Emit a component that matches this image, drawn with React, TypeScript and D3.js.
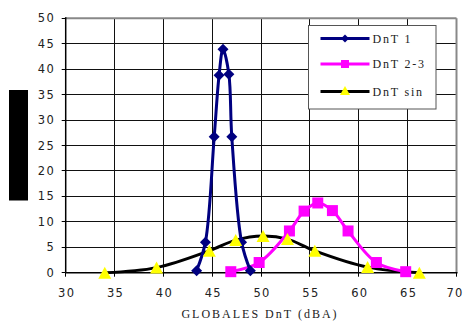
import React from "react";
import * as d3 from "d3";

const xTicks = [30, 35, 40, 45, 50, 55, 60, 65, 70];
const yTicks = [0, 5, 10, 15, 20, 25, 30, 35, 40, 45, 50];

const dnt1X = [43.4, 44.3, 45.2, 45.7, 46.1, 46.7, 47.0, 48.0, 48.9];
const dnt1Y = [0.4, 6.0, 26.7, 38.8, 43.9, 39.0, 26.7, 6.0, 0.4];

const dnt23X = [46.9, 49.8, 52.9, 54.4, 55.8, 57.3, 58.9, 61.8, 64.8];
const dnt23Y = [0.2, 2.0, 8.2, 12.1, 13.7, 12.2, 8.2, 2.0, 0.2];

const sinX = [34.0, 39.3, 44.7, 47.4, 50.2, 52.7, 55.5, 60.9, 66.2];
const sinY = [0.0, 1.0, 4.3, 6.4, 7.2, 6.6, 4.3, 1.1, 0.0];

const seriesNames = ["DnT 1", "DnT 2-3", "DnT sin"];
const xTitle = "GLOBALES DnT (dBA)";

const W = 464;
const H = 322;
const L = 65.7, R = 456.5, T = 18.2, B = 272.7;

const x = d3.scaleLinear().domain([30, 70]).range([L, R]);
const y = d3.scaleLinear().domain([0, 50]).range([B, T]);
const snap = (v: number) => Math.round(v - 0.5) + 0.5;

type P = [number, number];
const zip = (a: number[], b: number[]): P[] => a.map((v, i) => [v, b[i]]);

const line = d3
  .line<P>()
  .x((d) => x(d[0]))
  .y((d) => y(d[1]))
  .curve(d3.curveCatmullRom.alpha(0.5));

const diamond = (cx: number, cy: number, r: number) =>
  `M${cx},${cy - r}L${cx + r},${cy}L${cx},${cy + r}L${cx - r},${cy}Z`;
const tri = (cx: number, cy: number, w: number, h: number) =>
  `M${cx},${cy - h / 2}L${cx + w / 2},${cy + h / 2}L${cx - w / 2},${cy + h / 2}Z`;

export default function App() {
  const s1 = zip(dnt1X, dnt1Y);
  const s2 = zip(dnt23X, dnt23Y);
  const s3 = zip(sinX, sinY);
  const legY = [38.5, 64, 91.5];
  const tickFont = "DejaVu Sans";
  const serif = "Liberation Serif";
  return (
    <svg
      width={W}
      height={H}
      style={{ position: "absolute", left: 0, top: 0, background: "#fff" }}
    >
      <rect x={9} y={90} width={19} height={110.5} fill="#000" />
      {/* gridlines */}
      {yTicks.slice(1, -1).map((t) => (
        <line key={"gy" + t} x1={L} x2={R} y1={snap(y(t))} y2={snap(y(t))} stroke="#111" strokeWidth={1} />
      ))}
      {xTicks.slice(1, -1).map((t) => (
        <line key={"gx" + t} x1={snap(x(t))} x2={snap(x(t))} y1={T} y2={B} stroke="#111" strokeWidth={1} />
      ))}
      {/* plot border top/right */}
      <line x1={L} x2={R} y1={T} y2={T} stroke="#888" strokeWidth={2} />
      <line x1={R} x2={R} y1={T} y2={B} stroke="#888" strokeWidth={2} />
      {/* axes */}
      <line x1={L} x2={L} y1={T - 1} y2={B} stroke="#000" strokeWidth={1.5} />
      <line x1={L} x2={R + 1} y1={B} y2={B} stroke="#000" strokeWidth={1.5} />
      {yTicks.map((t) => (
        <g key={"yt" + t}>
          <line x1={L - 4} x2={L} y1={snap(y(t))} y2={snap(y(t))} stroke="#000" />
          <text
            x={55}
            y={y(t)}
            dy="0.36em"
            textAnchor="end"
            fontFamily={tickFont}
            fontSize={11.5}
            letterSpacing={1.3}
            fill="#222"
          >
            {t}
          </text>
        </g>
      ))}
      {xTicks.map((t) => (
        <g key={"xt" + t}>
          <line x1={snap(x(t))} x2={snap(x(t))} y1={B} y2={B + 4} stroke="#000" />
          <text
            x={Math.min(x(t) + 1, 455)}
            y={297}
            textAnchor="middle"
            fontFamily={tickFont}
            fontSize={11.5}
            letterSpacing={1.3}
            fill="#222"
          >
            {t}
          </text>
        </g>
      ))}
      <text
        x={260}
        y={317.5}
        textAnchor="middle"
        fontFamily={serif}
        fontSize={12}
        letterSpacing={2}
        fill="#222"
      >
        {xTitle}
      </text>
      {/* series */}
      <path d={line(s3) || ""} fill="none" stroke="#000" strokeWidth={3} />
      <path d={line(s2) || ""} fill="none" stroke="#ff00ff" strokeWidth={3} />
      <path d={line(s1) || ""} fill="none" stroke="#000080" strokeWidth={3} />
      {s1.map((d, i) => (
        <path key={"m1" + i} d={diamond(x(d[0]), y(d[1]), 5.5)} fill="#000080" />
      ))}
      {s2.map((d, i) => (
        <rect
          key={"m2" + i}
          x={x(d[0]) - 5.5}
          y={y(d[1]) - 5.5}
          width={11}
          height={11}
          fill="#ff00ff"
        />
      ))}
      {s3.map((d, i) => (
        <path key={"m3" + i} d={tri(x(d[0]), y(d[1]), 13, 12)} fill="#ffff00" />
      ))}
      {/* legend */}
      <rect x={308.5} y={25.5} width={127.5} height={83.5} fill="#fff" stroke="#555" strokeWidth={1} />
      {seriesNames.map((n, i) => {
        const ly = legY[i];
        const col = ["#000080", "#ff00ff", "#000"][i];
        return (
          <g key={"lg" + i}>
            <line x1={320.5} x2={369.5} y1={ly} y2={ly} stroke={col} strokeWidth={3} />
            {i === 0 && <path d={diamond(345, ly, 4)} fill="#000080" />}
            {i === 1 && <rect x={341} y={ly - 4} width={8} height={8} fill="#ff00ff" />}
            {i === 2 && <path d={tri(345, ly - 1, 10, 9)} fill="#ffff00" />}
            <text
              x={372.5}
              y={ly}
              dy="0.35em"
              fontFamily={serif}
              fontSize={12}
              letterSpacing={1.8}
              fill="#222"
            >
              {n}
            </text>
          </g>
        );
      })}
    </svg>
  );
}
